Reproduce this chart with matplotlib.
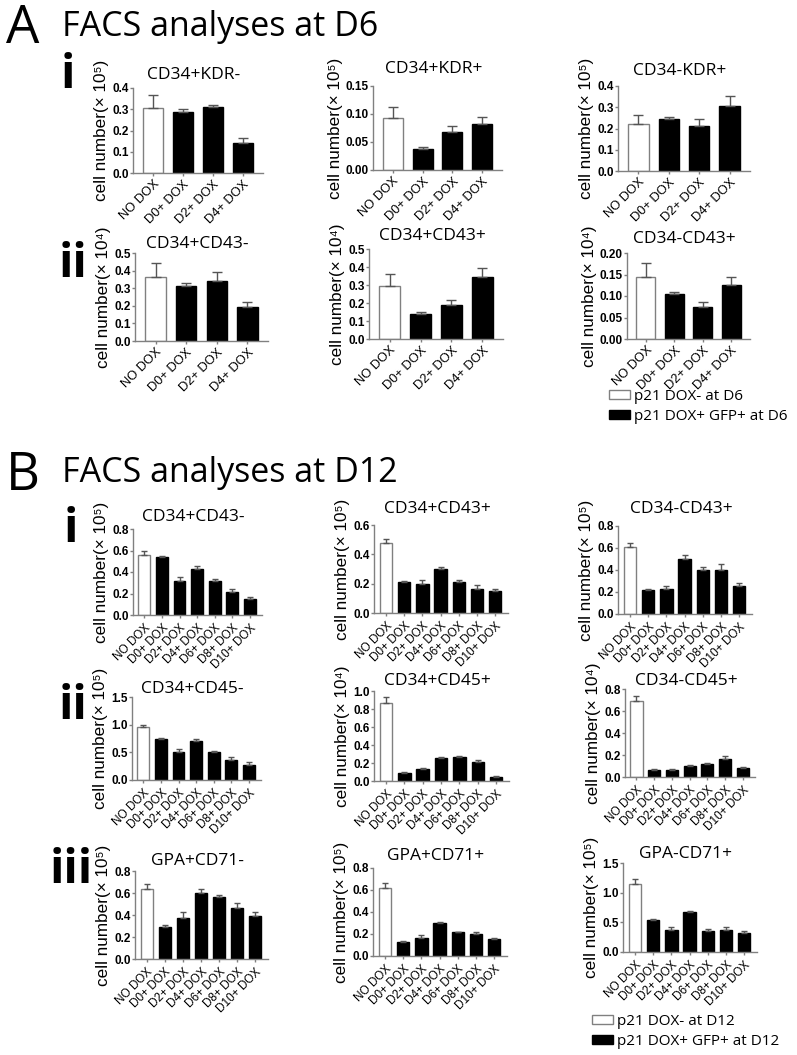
import matplotlib
matplotlib.use('Agg')
import matplotlib.pyplot as plt
from matplotlib.patches import Patch
import numpy as np

W, H = 797, 1055

groups_a = ['NO DOX', 'D0+ DOX', 'D2+ DOX', 'D4+ DOX']
groups_b = ['NO DOX', 'D0+ DOX', 'D2+ DOX', 'D4+ DOX', 'D6+ DOX', 'D8+ DOX', 'D10+ DOX']

# A - FACS at D6
titles_a = ['CD34+KDR-', 'CD34+KDR+', 'CD34-KDR+', 'CD34+CD43-', 'CD34+CD43+', 'CD34-CD43+']
exp_a = [5, 5, 5, 4, 4, 4]
vals_a = [
    [0.305, 0.288, 0.312, 0.140],
    [0.092, 0.038, 0.068, 0.083],
    [0.219, 0.246, 0.214, 0.306],
    [0.361, 0.313, 0.342, 0.191],
    [0.297, 0.138, 0.190, 0.344],
    [0.145, 0.105, 0.074, 0.126],
]
errs_a = [
    [0.062, 0.015, 0.010, 0.026],
    [0.020, 0.003, 0.011, 0.012],
    [0.046, 0.009, 0.033, 0.047],
    [0.082, 0.016, 0.049, 0.032],
    [0.064, 0.011, 0.029, 0.050],
    [0.031, 0.005, 0.012, 0.018],
]
ymax_a = [0.4, 0.15, 0.4, 0.5, 0.5, 0.20]
ystep_a = [0.1, 0.05, 0.1, 0.1, 0.1, 0.05]
yfmt_a = ['%.1f', '%.2f', '%.1f', '%.1f', '%.1f', '%.2f']

# B - FACS at D12
titles_b = ['CD34+CD43-', 'CD34+CD43+', 'CD34-CD43+',
            'CD34+CD45-', 'CD34+CD45+', 'CD34-CD45+',
            'GPA+CD71-', 'GPA+CD71+', 'GPA-CD71+']
exp_b = [5, 5, 5, 5, 4, 4, 5, 5, 5]
vals_b = [
    [0.560, 0.535, 0.317, 0.430, 0.320, 0.212, 0.149],
    [0.476, 0.210, 0.199, 0.299, 0.210, 0.167, 0.149],
    [0.605, 0.217, 0.226, 0.502, 0.400, 0.403, 0.256],
    [0.950, 0.742, 0.497, 0.707, 0.504, 0.367, 0.280],
    [0.870, 0.085, 0.130, 0.259, 0.267, 0.208, 0.048],
    [0.687, 0.067, 0.061, 0.098, 0.116, 0.168, 0.086],
    [0.634, 0.295, 0.377, 0.598, 0.567, 0.462, 0.395],
    [0.622, 0.130, 0.166, 0.296, 0.215, 0.199, 0.151],
    [1.150, 0.538, 0.368, 0.669, 0.357, 0.368, 0.312],
]
errs_b = [
    [0.040, 0.010, 0.035, 0.027, 0.013, 0.028, 0.016],
    [0.029, 0.007, 0.027, 0.013, 0.014, 0.023, 0.016],
    [0.045, 0.009, 0.029, 0.030, 0.024, 0.051, 0.024],
    [0.053, 0.018, 0.065, 0.040, 0.025, 0.040, 0.042],
    [0.060, 0.012, 0.014, 0.011, 0.014, 0.022, 0.008],
    [0.052, 0.006, 0.012, 0.009, 0.012, 0.022, 0.009],
    [0.045, 0.013, 0.049, 0.036, 0.013, 0.045, 0.036],
    [0.042, 0.006, 0.024, 0.015, 0.006, 0.018, 0.012],
    [0.085, 0.017, 0.046, 0.027, 0.028, 0.046, 0.034],
]
ymax_b = [0.8, 0.6, 0.8, 1.5, 1.0, 0.8, 0.8, 0.8, 1.5]
ystep_b = [0.2, 0.2, 0.2, 0.5, 0.2, 0.2, 0.2, 0.2, 0.5]
yfmt_b = ['%.1f'] * 9

# axes boxes in pixels: x0, x1, y of top tick, y of zero
boxes_a = [(133, 263, 88, 173), (373, 502, 86, 170), (618, 750, 86, 171),
           (135, 268, 253, 341), (369, 503, 249, 339), (627, 750, 253, 339)]
boxes_b = [(133, 262, 529, 615), (374, 508, 525, 613), (618, 752, 526, 614),
           (132, 261, 697, 780), (374, 509, 691, 781), (625, 755, 689, 777),
           (135, 268, 871, 959), (373, 507, 868, 956), (623, 757, 863, 952)]
tpad_a = [9, 13, 11, 5, 9, 10]
tpad_b = [8, 12, 13, 2, 6, 4, 6, 8, 5]

SUP = {4: '\u2074', 5: '\u2075'}
SANS = ['Liberation Sans', 'DejaVu Sans']
GREY = '#808080'


def box(b):
    x0, x1, yt, yb = b
    return [x0 / W, 1 - yb / H, (x1 - x0) / W, (yb - yt) / H]


def draw_panel(ax, groups, vals, errs, title, exp, ymax, step, fmt, tpad,
               width, xlim, xfont, cap, xpad):
    x = np.arange(len(groups))
    face = ['white'] + ['black'] * (len(groups) - 1)
    edge = [GREY] + ['black'] * (len(groups) - 1)
    ax.bar(x, vals, width, color=face, edgecolor=edge, linewidth=1, zorder=2)
    ax.errorbar(x, vals, yerr=[np.zeros(len(vals)), errs], fmt='none',
                ecolor='#555555', elinewidth=1, capsize=cap, capthick=1, zorder=3)
    ax.set_xlim(*xlim)
    ax.set_ylim(0, ymax)
    ticks = np.arange(0, ymax + step / 2, step)
    ax.set_yticks(ticks, [fmt % t for t in ticks], fontweight='bold',
                  fontsize=8.5, family=SANS)
    ax.set_xticks(x, groups, rotation=45, ha='right', va='top',
                  rotation_mode='anchor', fontsize=xfont, family=SANS)
    ax.tick_params(axis='both', length=2.2, width=1, color=GREY, pad=1)
    ax.tick_params(axis='x', pad=xpad)
    for s in ['top', 'right']:
        ax.spines[s].set_visible(False)
    for s in ['left', 'bottom']:
        ax.spines[s].set_color(GREY)
        ax.spines[s].set_linewidth(1)
    ax.set_ylabel('cell number(\u00d7 10' + SUP[exp] + ')', fontsize=12.3,
                  family=SANS, labelpad=2)
    ax.set_title(title, fontsize=12.5, family='Open Sans', x=0.47,
                 pad=tpad * 0.72)


fig = plt.figure(figsize=(W / 100, H / 100), dpi=100)

for i in range(6):
    ax = fig.add_axes(box(boxes_a[i]))
    draw_panel(ax, groups_a, vals_a[i], errs_a[i], titles_a[i], exp_a[i],
               ymax_a[i], ystep_a[i], yfmt_a[i], tpad_a[i],
               0.67, (-0.67, 3.67), 9.3, 3.5, 1.5)

for i in range(9):
    ax = fig.add_axes(box(boxes_b[i]))
    draw_panel(ax, groups_b, vals_b[i], errs_b[i], titles_b[i], exp_b[i],
               ymax_b[i], ystep_b[i], yfmt_b[i], tpad_b[i],
               0.68, (-0.65, 6.7), 8.5, 2.5, 3)


def ftext(x, y, s, **kw):
    fig.text(x / W, 1 - y / H, s, va='baseline', family='Open Sans', **kw)


ftext(6, 43, 'A', fontsize=38)
ftext(62, 36, 'FACS analyses at D6', fontsize=24.5)
ftext(61, 88, 'i', fontsize=34, fontweight='bold')
ftext(59, 277, 'ii', fontsize=34, fontweight='bold')

ftext(6, 490, 'B', fontsize=38)
ftext(62, 482, 'FACS analyses at D12', fontsize=24.5)
ftext(64, 542, 'i', fontsize=34, fontweight='bold')
ftext(59, 719, 'ii', fontsize=34, fontweight='bold')
ftext(50, 883, 'iii', fontsize=34, fontweight='bold')

handles = [Patch(facecolor='white', edgecolor=GREY),
           Patch(facecolor='black', edgecolor='black')]
leg_kw = dict(loc='upper left', frameon=False, handlelength=1.4,
              handleheight=0.5, labelspacing=0.3, handletextpad=0.25,
              borderpad=0, borderaxespad=0, bbox_transform=fig.transFigure,
              prop={'family': 'Open Sans', 'size': 11})
fig.legend(handles, ['p21 DOX- at D6', 'p21 DOX+ GFP+ at D6'],
           bbox_to_anchor=(609 / W, 1 - 389 / H), **leg_kw)
fig.legend(handles, ['p21 DOX- at D12', 'p21 DOX+ GFP+ at D12'],
           bbox_to_anchor=(592 / W, 1 - 1014 / H), **leg_kw)

fig.savefig('out.png', dpi=100, facecolor='white')
